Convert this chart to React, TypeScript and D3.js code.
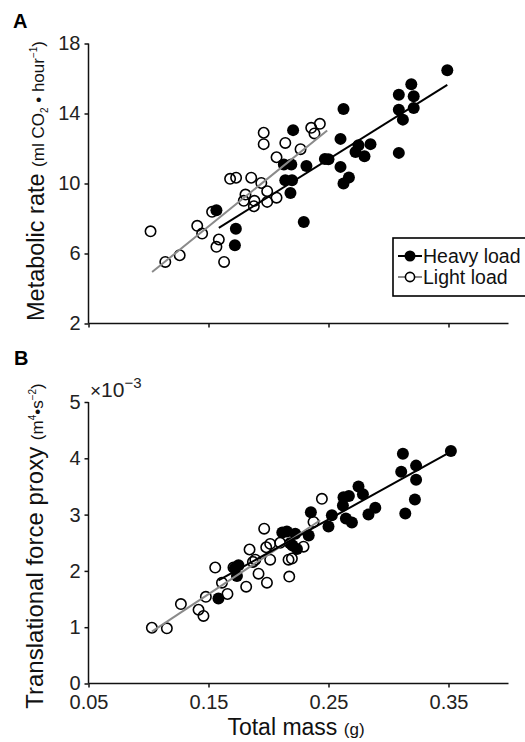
import React, { useEffect, useRef } from "react";
import * as d3 from "d3";

// Total mass (g) vs metabolic rate, panel A
const heavyRate: [number, number][] = [
  [0.349, 16.47], [0.319, 15.67], [0.3086, 15.07], [0.321, 14.99], [0.3086, 14.21],
  [0.321, 14.32], [0.312, 13.65], [0.3086, 11.75], [0.2625, 14.26], [0.26, 12.55],
  [0.26, 10.95], [0.267, 10.34], [0.2625, 10.0], [0.275, 12.19], [0.285, 12.25],
  [0.2725, 11.8], [0.28, 11.56], [0.25, 11.39], [0.247, 11.4], [0.2205, 13.05],
  [0.2316, 11.0], [0.2294, 7.8], [0.2183, 9.46], [0.214, 10.19], [0.2196, 10.19],
  [0.2128, 11.09], [0.219, 11.09], [0.1566, 8.47], [0.1728, 7.42], [0.172, 6.47],
];
const lightRate: [number, number][] = [
  [0.1017, 7.27], [0.114, 5.52], [0.126, 5.9], [0.1406, 7.58], [0.1447, 7.14],
  [0.153, 8.38], [0.1586, 6.8], [0.1566, 6.38], [0.163, 5.52], [0.168, 10.27],
  [0.173, 10.33], [0.1856, 10.33], [0.1808, 9.37], [0.1794, 9.01], [0.1883, 9.01],
  [0.1878, 8.7], [0.194, 10.03], [0.196, 12.9], [0.196, 12.25], [0.1989, 9.56],
  [0.1989, 8.95], [0.2067, 9.19], [0.2067, 11.5], [0.214, 12.32], [0.2267, 11.96],
  [0.2356, 13.18], [0.2428, 13.41], [0.2383, 12.86],
];
// fitted lines (start, end)
const heavyRateFit: [number, number][] = [[0.1586, 7.46], [0.349, 15.64]];
const lightRateFit: [number, number][] = [[0.103, 4.94], [0.2489, 13.03]];

// Total mass (g) vs translational force proxy (x10^-3), panel B
const heavyForce: [number, number][] = [
  [0.352, 4.13], [0.312, 4.08], [0.3106, 3.76], [0.323, 3.87], [0.323, 3.62],
  [0.322, 3.27], [0.314, 3.02], [0.275, 3.5], [0.2787, 3.36], [0.2625, 3.31],
  [0.267, 3.33], [0.262, 3.16], [0.289, 3.12], [0.2833, 3.0], [0.2695, 2.86],
  [0.2645, 2.93], [0.2528, 2.99], [0.25, 2.79], [0.2353, 3.04], [0.2335, 2.63],
  [0.2153, 2.7], [0.2223, 2.66], [0.218, 2.49], [0.2237, 2.39], [0.22, 2.45],
  [0.2115, 2.68], [0.175, 2.1], [0.172, 2.05], [0.1737, 1.91], [0.1583, 1.51],
];
const lightForce: [number, number][] = [
  [0.1028, 0.99], [0.1153, 0.98], [0.127, 1.41], [0.1417, 1.31], [0.1458, 1.2],
  [0.1478, 1.54], [0.1556, 2.06], [0.1612, 1.79], [0.1658, 1.59], [0.1708, 2.06],
  [0.1814, 1.72], [0.1842, 2.38], [0.187, 2.16], [0.189, 2.2], [0.1917, 1.95],
  [0.1964, 2.75], [0.1987, 1.79], [0.1981, 2.42], [0.2014, 2.48], [0.2014, 2.2],
  [0.2097, 2.5], [0.2167, 2.2], [0.2173, 1.9], [0.2292, 2.43], [0.2375, 2.87],
  [0.2445, 3.28], [0.2195, 2.22],
];
const heavyForceFit: [number, number][] = [[0.1583, 1.83], [0.3487, 4.08]];
const lightForceFit: [number, number][] = [[0.1028, 0.92], [0.2431, 2.9]];

const massTicks = [0.05, 0.15, 0.25, 0.35];
const rateTicks = [2, 6, 10, 14, 18];
const forceTicks = [0, 1, 2, 3, 4, 5];

const FONT = "'Liberation Sans', Arial, Helvetica, sans-serif";
const GRAY = "#8a8a8a";

const App: React.FC = () => {
  const svgRef = useRef<SVGSVGElement>(null);

  useEffect(() => {
    if (!svgRef.current) return;
    const svg = d3.select(svgRef.current);
    svg.selectAll("*").remove();

    const x = d3.scaleLinear().domain([0.05, 0.4]).range([88.5, 508.5]);
    const yA = d3.scaleLinear().domain([2, 18]).range([323.5, 43.5]);
    const yB = d3.scaleLinear().domain([0, 5]).range([683.5, 402]);

    const drawPanel = (
      y: d3.ScaleLinear<number, number>,
      yTicks: number[],
      heavy: [number, number][],
      light: [number, number][],
      heavyFit: [number, number][],
      lightFit: [number, number][],
      showXLabels: boolean
    ) => {
      const g = svg.append("g");
      const y0 = y.range()[0];

      // y axis
      const yAxis = d3
        .axisLeft(y)
        .tickValues(yTicks)
        .tickSize(4)
        .tickPadding(4)
        .tickFormat((d) => String(d));
      const ya = g
        .append("g")
        .attr("transform", `translate(${x.range()[0]},0)`)
        .call(yAxis);
      ya.select(".domain").attr("d", `M-0,${y.range()[1]}V${y0}`);

      // x axis
      const xAxis = d3
        .axisBottom(x)
        .tickValues(massTicks)
        .tickSize(4)
        .tickPadding(7)
        .tickFormat((d) => (showXLabels ? d3.format(".2f")(d as number) : ""));
      const xa = g.append("g").attr("transform", `translate(0,${y0})`).call(xAxis);
      xa.select(".domain").attr("d", `M${x.range()[0]},0H${x.range()[1]}`);

      [ya, xa].forEach((a) => {
        a.selectAll("path, line").attr("stroke", "#111").attr("stroke-width", 1.5);
        a.selectAll("text")
          .attr("fill", "#222")
          .style("font-family", FONT)
          .style("font-size", "20px");
      });

      // light points
      g.selectAll(".light")
        .data(light)
        .enter()
        .append("circle")
        .attr("cx", (d) => x(d[0]))
        .attr("cy", (d) => y(d[1]))
        .attr("r", 5.2)
        .attr("fill", "none")
        .attr("stroke", "#000")
        .attr("stroke-width", 1.6);

      // heavy points
      g.selectAll(".heavy")
        .data(heavy)
        .enter()
        .append("circle")
        .attr("cx", (d) => x(d[0]))
        .attr("cy", (d) => y(d[1]))
        .attr("r", 6)
        .attr("fill", "#000");

      const line = d3
        .line<[number, number]>()
        .x((d) => x(d[0]))
        .y((d) => y(d[1]));

      g.append("path")
        .attr("d", line(lightFit))
        .attr("stroke", GRAY)
        .attr("stroke-width", 2)
        .attr("fill", "none");
      g.append("path")
        .attr("d", line(heavyFit))
        .attr("stroke", "#000")
        .attr("stroke-width", 2)
        .attr("fill", "none");
    };

    drawPanel(yA, rateTicks, heavyRate, lightRate, heavyRateFit, lightRateFit, false);
    drawPanel(yB, forceTicks, heavyForce, lightForce, heavyForceFit, lightForceFit, true);

    // panel letters
    svg.append("text").attr("x", 13).attr("y", 28).text("A")
      .style("font-family", FONT).style("font-size", "20px").style("font-weight", "bold");
    svg.append("text").attr("x", 14).attr("y", 365).text("B")
      .style("font-family", FONT).style("font-size", "20px").style("font-weight", "bold");

    // y axis title A
    const tA = svg
      .append("text")
      .attr("transform", "translate(44,181) rotate(-90)")
      .attr("text-anchor", "middle")
      .style("font-family", FONT)
      .attr("fill", "#111");
    tA.append("tspan").style("font-size", "23.5px").text("Metabolic rate ");
    tA.append("tspan").style("font-size", "17px").text("(ml CO");
    tA.append("tspan").style("font-size", "10px").attr("dy", 4).text("2");
    tA.append("tspan").style("font-size", "17px").attr("dy", -4).text(" \u2022 hour");
    tA.append("tspan").style("font-size", "10px").attr("dy", -7).text("\u22121");
    tA.append("tspan").style("font-size", "17px").attr("dy", 7).text(")");

    // y axis title B
    const tB = svg
      .append("text")
      .attr("transform", "translate(43,546) rotate(-90)")
      .attr("text-anchor", "middle")
      .style("font-family", FONT)
      .attr("fill", "#111");
    tB.append("tspan").style("font-size", "24px").text("Translational force proxy ");
    tB.append("tspan").style("font-size", "17px").text("(m");
    tB.append("tspan").style("font-size", "10px").attr("dy", -7).text("4");
    tB.append("tspan").style("font-size", "17px").attr("dy", 7).text("\u2022s");
    tB.append("tspan").style("font-size", "10px").attr("dy", -7).text("\u22122");
    tB.append("tspan").style("font-size", "17px").attr("dy", 7).text(")");

    // exponent marker
    const tE = svg
      .append("text")
      .attr("x", 90)
      .attr("y", 397)
      .style("font-family", FONT)
      .attr("fill", "#222");
    tE.append("tspan").style("font-size", "19px").text("\u00d7");
    tE.append("tspan").style("font-size", "21px").text("10");
    tE.append("tspan").style("font-size", "15px").attr("dy", -9).text("\u22123");

    // x axis title
    const tX = svg
      .append("text")
      .attr("x", 296)
      .attr("y", 735)
      .attr("text-anchor", "middle")
      .style("font-family", FONT)
      .attr("fill", "#111");
    tX.append("tspan").style("font-size", "23px").text("Total mass ");
    tX.append("tspan").style("font-size", "17px").text("(g)");

    // legend
    const lg = svg.append("g");
    lg.append("rect")
      .attr("x", 393)
      .attr("y", 238)
      .attr("width", 150)
      .attr("height", 58)
      .attr("fill", "#fff")
      .attr("stroke", "#000")
      .attr("stroke-width", 1.6);
    const items = [
      { label: "Heavy load", cy: 256, heavy: true },
      { label: "Light load", cy: 277, heavy: false },
    ];
    items.forEach((it) => {
      lg.append("line")
        .attr("x1", 398)
        .attr("x2", 422)
        .attr("y1", it.cy)
        .attr("y2", it.cy)
        .attr("stroke", it.heavy ? "#000" : GRAY)
        .attr("stroke-width", 2);
      lg.append("circle")
        .attr("cx", 410)
        .attr("cy", it.cy)
        .attr("r", it.heavy ? 5.5 : 4.6)
        .attr("fill", it.heavy ? "#000" : "#fff")
        .attr("stroke", "#000")
        .attr("stroke-width", it.heavy ? 0 : 1.6);
      lg.append("text")
        .attr("x", 423)
        .attr("y", it.cy + 7)
        .style("font-family", FONT)
        .style("font-size", "19.5px")
        .attr("fill", "#111")
        .text(it.label);
    });
  }, []);

  return (
    <svg
      ref={svgRef}
      width={525}
      height={742}
      style={{ position: "absolute", left: 0, top: 0, display: "block", background: "#fff" }}
    />
  );
};

export default App;
